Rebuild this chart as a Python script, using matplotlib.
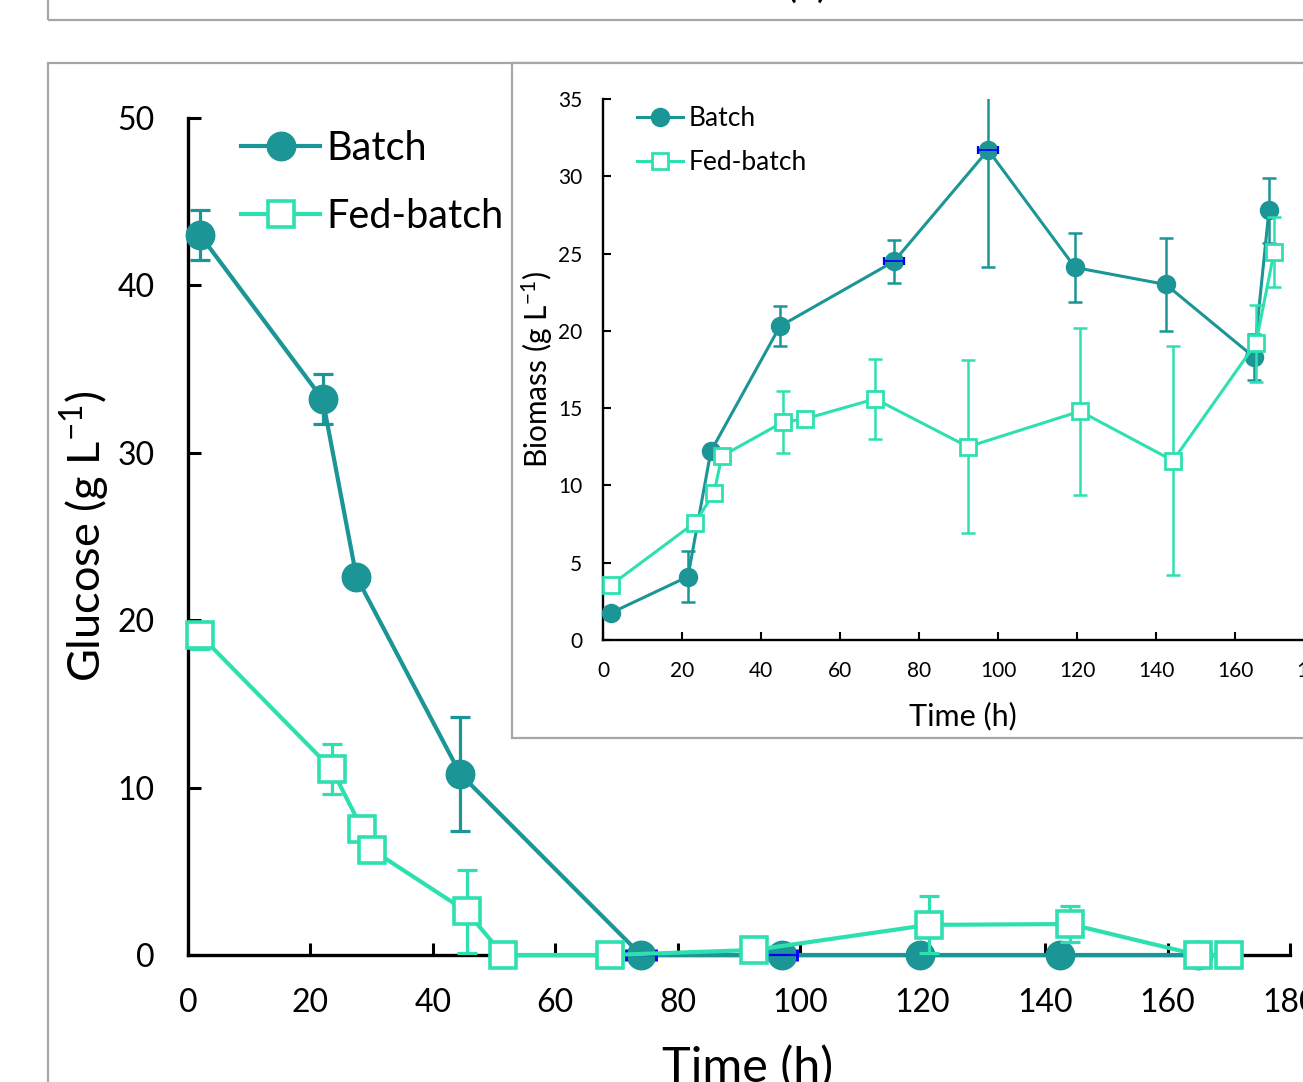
import matplotlib
matplotlib.use('Agg')
import matplotlib.pyplot as plt
import numpy as np
from matplotlib.patches import Rectangle
from matplotlib.lines import Line2D

plt.rcParams['font.family'] = ['Lato', 'DejaVu Sans']
plt.rcParams['mathtext.fontset'] = 'custom'
plt.rcParams['mathtext.rm'] = 'Lato'
plt.rcParams['mathtext.it'] = 'Lato:italic'
plt.rcParams['mathtext.default'] = 'regular'

# ---------------- data ----------------
# Glucose (main plot)
glc_batch_t = [2, 22, 27.5, 44.5, 74, 97, 119.5, 142.5, 165]
glc_batch = [43.0, 33.2, 22.6, 10.8, 0, 0, 0, 0, 0]
glc_batch_err = [1.5, 1.5, 0, 3.4, 0, 0, 0, 0, 0]
glc_batch_xerr = [0, 0, 0, 0, 2.5, 2.5, 0, 0, 0]
glc_fed_t = [2, 23.5, 28.5, 30, 45.5, 51.5, 69, 92.5, 121, 144, 165, 170]
glc_fed = [19.1, 11.1, 7.5, 6.3, 2.6, 0, 0, 0.3, 1.8, 1.85, 0, 0]
glc_fed_err = [0.8, 1.5, 0, 0, 2.5, 0, 0, 0, 1.7, 1.1, 0, 0]

# Biomass (inset)
bio_batch_t = [2, 21.5, 27.3, 44.8, 73.7, 97.5, 119.5, 142.5, 164.8, 168.6]
bio_batch = [1.75, 4.1, 12.2, 20.3, 24.5, 31.7, 24.1, 23.0, 18.3, 27.8]
bio_batch_err = [0, 1.65, 0, 1.3, 1.4, 7.6, 2.25, 3.0, 1.5, 2.1]
bio_batch_xerr = [0, 0, 0, 0, 2.5, 2.5, 0, 0, 0, 0]
bio_fed_t = [2, 23.3, 28.1, 30.1, 45.6, 51.1, 68.9, 92.4, 120.8, 144.3, 165.3, 169.9]
bio_fed = [3.55, 7.6, 9.5, 11.9, 14.1, 14.3, 15.6, 12.5, 14.8, 11.6, 19.2, 25.1]
bio_fed_err = [0.4, 0, 0, 0, 2.0, 0, 2.6, 5.6, 5.4, 7.4, 2.5, 2.25]

series_labels = ['Batch', 'Fed-batch']
x_ticks = list(range(0, 181, 20))
glc_ticks = list(range(0, 51, 10))
bio_ticks = list(range(0, 36, 5))

TEAL = '#1B9595'
MINT = '#2EE0B0'
GRAY = '#A6A6A6'

W, H = 1303, 1082
def fx(p): return p / W
def fy(p): return 1 - p / H

fig = plt.figure(figsize=(W / 100, H / 100), dpi=100)

# panel frames
fig.add_artist(Rectangle((fx(48), fy(20)), 2, 1, transform=fig.transFigure,
                         fill=False, edgecolor=GRAY, lw=1.6, zorder=-1))
fig.add_artist(Rectangle((fx(48), -1), 2, fy(63) + 1, transform=fig.transFigure,
                         fill=False, edgecolor=GRAY, lw=1.6, zorder=-1))
fig.text(fx(807), 1.003, '(a)', ha='center', va='baseline', fontsize=30)


def draw(ax, tb, yb, eb, xeb, tf, yf, ef, ms_c, ms_s, lw, elw, cap, mew):
    tb, yb, eb, xeb = map(np.asarray, (tb, yb, eb, xeb))
    tf, yf, ef = map(np.asarray, (tf, yf, ef))
    m = eb > 0
    ax.errorbar(tb[m], yb[m], yerr=eb[m], fmt='none', ecolor=TEAL,
                elinewidth=elw, capsize=cap, capthick=elw, zorder=3)
    ax.plot(tb, yb, color=TEAL, lw=lw, marker='o', ms=ms_c, mec=TEAL,
            clip_on=False, zorder=3.2)
    mx = xeb > 0
    ax.errorbar(tb[mx], yb[mx], xerr=xeb[mx], fmt='none', ecolor='#0000FF',
                elinewidth=elw * 0.7, capsize=cap * 0.6, capthick=elw * 0.9,
                zorder=3.3, clip_on=False)
    m2 = ef > 0
    ax.errorbar(tf[m2], yf[m2], yerr=ef[m2], fmt='none', ecolor=MINT,
                elinewidth=elw, capsize=cap, capthick=elw, zorder=3.4)
    ax.plot(tf, yf, color=MINT, lw=lw, marker='s', ms=ms_s, mfc='white',
            mec=MINT, mew=mew, clip_on=False, zorder=3.5)


# ---------------- main axes ----------------
ax = fig.add_axes([fx(188), fy(955), fx(1290) - fx(188), fy(118) - fy(955)])
ax.set_zorder(1)
ax.patch.set_visible(False)
draw(ax, glc_batch_t, glc_batch, glc_batch_err, glc_batch_xerr,
     glc_fed_t, glc_fed, glc_fed_err, ms_c=20.5, ms_s=18.5, lw=3, elw=2.3, cap=7, mew=2.6)
ax.set_xlim(0, 180)
ax.set_ylim(0, 50)
ax.set_xticks(x_ticks)
ax.set_yticks(glc_ticks)
for s in ('top', 'right'):
    ax.spines[s].set_visible(False)
for s in ('left', 'bottom'):
    ax.spines[s].set_linewidth(2.4)
ax.tick_params(direction='in', length=9, width=2.2, labelsize=23, pad=24)
ax.set_xlabel('Time (h)', fontsize=35, labelpad=20)
ax.xaxis.set_label_coords(0.508, -0.108)
ax.set_ylabel('Glucose (g L$^{-1}$)', fontsize=32.5, labelpad=4)

h1 = Line2D([], [], color=TEAL, lw=3, marker='o', ms=20.5)
h2 = Line2D([], [], color=MINT, lw=3, marker='s', ms=18.5, mfc='white', mec=MINT, mew=2.6)
ax.legend([h1, h2], series_labels, loc='upper left', bbox_to_anchor=(fx(241), fy(130)),
          bbox_transform=fig.transFigure, frameon=False, fontsize=28.5,
          handlelength=2.0, handletextpad=0.15, labelspacing=0.78, borderpad=0,
          borderaxespad=0)

# ---------------- inset ----------------
fig.add_artist(Rectangle((fx(512), fy(738)), 2, fy(63) - fy(738), transform=fig.transFigure,
                         facecolor='white', edgecolor=GRAY, lw=1.6, zorder=2))
ax2 = fig.add_axes([fx(603), fy(640), fx(1314) - fx(603), fy(99) - fy(640)])
ax2.set_zorder(3)
draw(ax2, bio_batch_t, bio_batch, bio_batch_err, bio_batch_xerr,
     bio_fed_t, bio_fed, bio_fed_err, ms_c=13, ms_s=11, lw=2.2, elw=1.8, cap=5, mew=2.0)
ax2.set_xlim(0, 180)
ax2.set_ylim(0, 35)
ax2.set_xticks(x_ticks)
ax2.set_yticks(bio_ticks)
for s in ('top', 'right'):
    ax2.spines[s].set_visible(False)
for s in ('left', 'bottom'):
    ax2.spines[s].set_linewidth(1.7)
ax2.tick_params(direction='in', length=6, width=1.5, labelsize=15, pad=15)
ax2.set_xlabel('Time (h)', fontsize=22, labelpad=11)
ax2.xaxis.set_label_coords(0.506, -0.115)
ax2.set_ylabel('Biomass (g L$^{-1}$)', fontsize=21.5, labelpad=2)
g1 = Line2D([], [], color=TEAL, lw=2.2, marker='o', ms=13)
g2 = Line2D([], [], color=MINT, lw=2.2, marker='s', ms=11, mfc='white', mec=MINT, mew=2.0)
ax2.legend([g1, g2], series_labels, loc='upper left', bbox_to_anchor=(fx(637), fy(106)),
           bbox_transform=fig.transFigure, frameon=False, fontsize=19,
           handlelength=1.75, handletextpad=0.2, labelspacing=0.72, borderpad=0,
           borderaxespad=0)

fig.savefig('out.png', dpi=100)
